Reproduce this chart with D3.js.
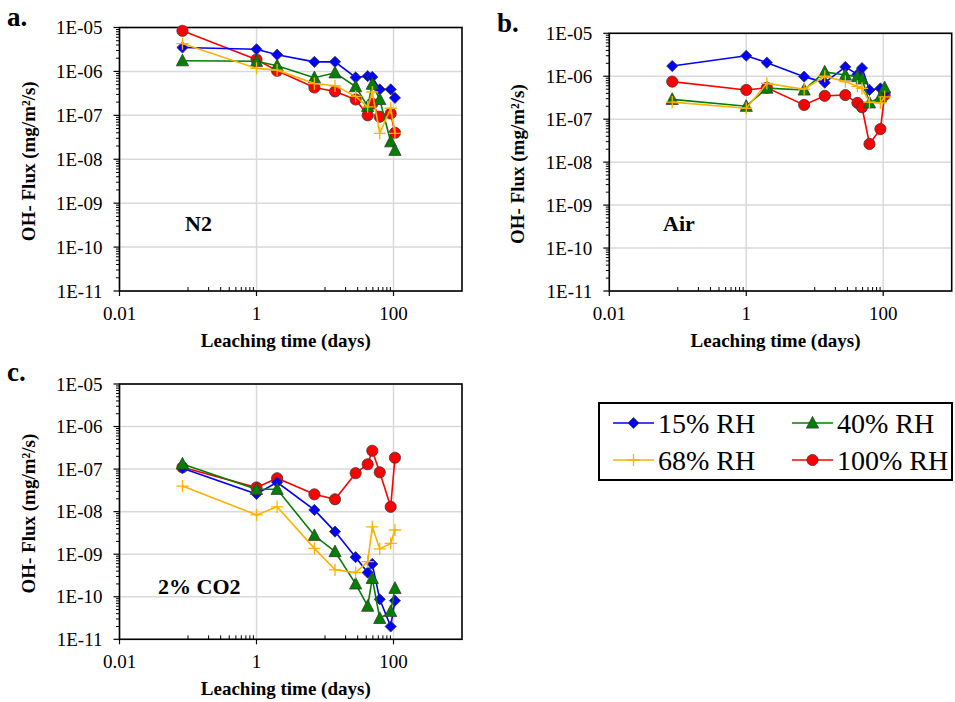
<!DOCTYPE html>
<html>
<head>
<meta charset="utf-8">
<script src="https://cdn.jsdelivr.net/npm/d3@7"></script>
<style>
body{margin:0;background:#fff}
</style>
</head>
<body>
<svg id="chart" width="955" height="702"></svg>
<script>
// leaching times (days), same for all panels
const days = [0.083, 1, 2, 7, 14, 28, 42, 49, 63, 91, 105]
const rhNames = ['15% RH', '40% RH', '68% RH', '100% RH']
const xTicks = [0.01, 1, 100]
const yTicks = [1e-5, 1e-6, 1e-7, 1e-8, 1e-9, 1e-10, 1e-11]

// a. N2
const n2Rh15 = [3.5e-6, 3.2e-6, 2.4e-6, 1.65e-6, 1.65e-6, 7.3e-7, 7.8e-7, 7.5e-7, 3.9e-7, 3.9e-7, 2.5e-7]
const n2Rh40 = [1.75e-6, 1.7e-6, 1.35e-6, 7.2e-7, 9.3e-7, 4.5e-7, 1.6e-7, 5.1e-7, 2.3e-7, 2.5e-8, 1.6e-8]
const n2Rh68 = [4.3e-6, 1.17e-6, 1.07e-6, 5.3e-7, 4.7e-7, 2.7e-7, 1.55e-7, 3.4e-7, 3.9e-8, 1.45e-7, 3.9e-8]
const n2Rh100 = [8.4e-6, 1.87e-6, 1.03e-6, 4.3e-7, 3.5e-7, 2.3e-7, 1.0e-7, 1.85e-7, 9.3e-8, 1.1e-7, 4.0e-8]

// b. Air
const airRh15 = [1.73e-6, 3.0e-6, 2.07e-6, 9.8e-7, 7.1e-7, 1.65e-6, 1.1e-6, 1.55e-6, 4.8e-7, 5.2e-7, 4.2e-7]
const airRh40 = [2.9e-7, 2.0e-7, 5.3e-7, 4.8e-7, 1.26e-6, 1.07e-6, 9.8e-7, 8.7e-7, 2.4e-7, 3.3e-7, 5.4e-7]
const airRh68 = [2.5e-7, 1.8e-7, 6.8e-7, 5.0e-7, 1.0e-6, 7.5e-7, 5.8e-7, 5.2e-7, 2.5e-7, 2.4e-7, 3.3e-7]
const airRh100 = [7.5e-7, 4.8e-7, 5.4e-7, 2.15e-7, 3.5e-7, 3.65e-7, 2.4e-7, 1.9e-7, 2.65e-8, 5.9e-8, 3.65e-7]

// c. 2% CO2
const co2Rh15 = [1.05e-7, 2.6e-8, 4.9e-8, 1.1e-8, 3.4e-9, 8.5e-10, 3.7e-10, 5.9e-10, 8.7e-11, 2.0e-11, 8.1e-11]
const co2Rh40 = [1.32e-7, 3.35e-8, 3.35e-8, 2.75e-9, 1.15e-9, 2.0e-10, 6.0e-11, 2.7e-10, 3.1e-11, 4.5e-11, 1.58e-10]
const co2Rh68 = [4.0e-8, 8.4e-9, 1.3e-8, 1.37e-9, 4.3e-10, 3.7e-10, 6.7e-10, 4.4e-9, 1.33e-9, 1.8e-9, 3.7e-9]
const co2Rh100 = [1.1e-7, 3.7e-8, 6.1e-8, 2.55e-8, 1.95e-8, 8.0e-8, 1.3e-7, 2.7e-7, 8.4e-8, 1.3e-8, 1.85e-7]

const styles = [
    {color: '#0000ff', shape: 'diamond', fill: '#0000ff'},
    {color: '#008000', shape: 'triangle', fill: '#008000'},
    {color: '#ffb000', shape: 'plus', fill: 'none'},
    {color: '#ff0000', shape: 'circle', fill: '#ff0000'}
]
// red drawn first, then blue, green, orange
const drawOrder = [3, 0, 1, 2]

const panels = [
    {tag: 'a.', gas: 'N2', x0: 119.5, x1: 462, y0: 27.5, y1: 291, tagX: 7, tagY: 26, gasX: 185, gasY: 231,
        values: [n2Rh15, n2Rh40, n2Rh68, n2Rh100]},
    {tag: 'b.', gas: 'Air', x0: 609.3, x1: 951.7, y0: 33.3, y1: 291, tagX: 497, tagY: 32, gasX: 663, gasY: 231,
        values: [airRh15, airRh40, airRh68, airRh100]},
    {tag: 'c.', gas: '2% CO2', x0: 119.5, x1: 462, y0: 384, y1: 639.3, tagX: 7, tagY: 381, gasX: 158, gasY: 594,
        values: [co2Rh15, co2Rh40, co2Rh68, co2Rh100]}
]

const svg = d3.select('#chart').style('font-family', '"Liberation Serif"')

function marker(g, shape, s) {
    if (shape === 'diamond') {
        g.append('path').attr('d', `M0,${-s}L${s},0L0,${s}L${-s},0Z`)
    } else if (shape === 'triangle') {
        g.append('path').attr('d', `M0,${-s - 1}L${s + 0.5},${s - 0.5}L${-s - 0.5},${s - 0.5}Z`)
    } else if (shape === 'circle') {
        g.append('circle').attr('r', s)
    } else {
        g.append('path').attr('d', `M${-s - 0.5},0H${s + 0.5}M0,${-s - 0.5}V${s + 0.5}`)
    }
}

function styleMarker(m, st) {
    if (st.shape === 'plus') {
        m.attr('fill', 'none').attr('stroke', st.color).attr('stroke-width', 1.3)
    } else {
        m.attr('fill', st.fill).attr('stroke', '#3a3a3a').attr('stroke-width', 0.8)
    }
}

function txt(sel, size, bold) {
    return sel.style('font-family', '"Liberation Serif"')
        .style('font-size', size + 'px')
        .style('font-weight', bold ? 'bold' : 'normal')
}

function drawPanel(p) {
    const x = d3.scaleLog().domain([0.01, 1000]).range([p.x0, p.x1])
    const y = d3.scaleLog().domain([1e-11, 1e-5]).range([p.y1, p.y0])
    const g = svg.append('g')

    // gridlines
    g.selectAll('.gx').data(xTicks).join('line')
        .attr('x1', d => x(d)).attr('x2', d => x(d))
        .attr('y1', p.y0).attr('y2', p.y1)
        .attr('stroke', '#d9d9d9').attr('stroke-width', 1.5)
    g.selectAll('.gy').data(yTicks).join('line')
        .attr('x1', p.x0).attr('x2', p.x1)
        .attr('y1', d => y(d)).attr('y2', d => y(d))
        .attr('stroke', '#d9d9d9').attr('stroke-width', 1.5)

    // minor ticks: y at 2..9 per decade (outside), x at 10^(k+1) multiples (inside)
    const yMinor = []
    for (let e = -11; e < -5; e++) for (let k = 2; k <= 9; k++) yMinor.push(k * Math.pow(10, e))
    const xMinor = []
    for (let k = 1; k <= 9; k++) { xMinor.push(k * 0.1); xMinor.push(k * 10) }
    g.selectAll('.my').data(yMinor).join('line')
        .attr('x1', p.x0 - 3.5).attr('x2', p.x0)
        .attr('y1', d => y(d)).attr('y2', d => y(d))
        .attr('stroke', '#000').attr('stroke-width', 1)
    g.selectAll('.mx').data(xMinor).join('line')
        .attr('x1', d => x(d)).attr('x2', d => x(d))
        .attr('y1', p.y1 - 4).attr('y2', p.y1)
        .attr('stroke', '#000').attr('stroke-width', 1)
    g.selectAll('.ty').data(yTicks).join('line')
        .attr('x1', p.x0 - 6).attr('x2', p.x0)
        .attr('y1', d => y(d)).attr('y2', d => y(d))
        .attr('stroke', '#000').attr('stroke-width', 1.2)
    g.selectAll('.tx').data(xTicks).join('line')
        .attr('x1', d => x(d)).attr('x2', d => x(d))
        .attr('y1', p.y1).attr('y2', p.y1 + 5)
        .attr('stroke', '#000').attr('stroke-width', 1.2)

    // frame
    g.append('rect')
        .attr('x', p.x0).attr('y', p.y0)
        .attr('width', p.x1 - p.x0).attr('height', p.y1 - p.y0)
        .attr('fill', 'none').attr('stroke', '#000').attr('stroke-width', 1.6)

    // tick labels
    txt(g.selectAll('.ly').data(yTicks).join('text'), 19)
        .attr('x', p.x0 - 17).attr('y', d => y(d)).attr('dy', '0.35em')
        .attr('text-anchor', 'end')
        .text(d => '1E-' + String(-Math.round(Math.log10(d))).padStart(2, '0'))
    txt(g.selectAll('.lx').data(xTicks).join('text'), 19)
        .attr('x', d => x(d)).attr('y', p.y1 + 29)
        .attr('text-anchor', 'middle')
        .text(d => String(d))

    // axis titles
    txt(g.append('text'), 19, true)
        .attr('x', (p.x0 + p.x1) / 2 - 5).attr('y', p.y1 + 56)
        .attr('text-anchor', 'middle')
        .text('Leaching time (days)')
    txt(g.append('text'), 19, true)
        .attr('transform', `translate(${p.x0 - 85},${(p.y0 + p.y1) / 2 + 2}) rotate(-90)`)
        .attr('text-anchor', 'middle')
        .text('OH- Flux (mg/m²/s)')

    // panel tag and gas label
    txt(g.append('text'), 27, true).attr('x', p.tagX).attr('y', p.tagY).text(p.tag)
    txt(g.append('text'), 22, true).attr('x', p.gasX).attr('y', p.gasY).text(p.gas)

    // series
    const line = d3.line().x(d => x(d.t)).y(d => y(d.v))
    drawOrder.forEach(i => {
        const st = styles[i]
        const pts = days.map((t, j) => ({t: t, v: p.values[i][j]}))
        g.append('path').datum(pts)
            .attr('d', line)
            .attr('fill', 'none')
            .attr('stroke', st.color)
            .attr('stroke-width', 1.6)
        pts.forEach(d => {
            const m = g.append('g')
                .attr('transform', `translate(${x(d.t)},${y(d.v)})`)
            styleMarker(m, st)
            marker(m, st.shape, 5.6)
        })
    })
}

panels.forEach(drawPanel)

// legend
const leg = svg.append('g')
leg.append('rect')
    .attr('x', 599).attr('y', 403).attr('width', 353).attr('height', 77)
    .attr('fill', '#fff').attr('stroke', '#000').attr('stroke-width', 2)
const legPos = [[613, 423], [792, 423], [613, 460], [792, 460]]
rhNames.forEach((name, i) => {
    const st = styles[i]
    const [lx, ly] = legPos[i]
    leg.append('line')
        .attr('x1', lx).attr('x2', lx + 41).attr('y1', ly).attr('y2', ly)
        .attr('stroke', st.color).attr('stroke-width', 1.6)
    const m = leg.append('g').attr('transform', `translate(${lx + 20.5},${ly})`)
    styleMarker(m, st)
    marker(m, st.shape, 5.6)
    txt(leg.append('text'), 28)
        .attr('x', lx + 45).attr('y', ly).attr('dy', '0.35em')
        .text(name)
})
</script>
</body>
</html>
